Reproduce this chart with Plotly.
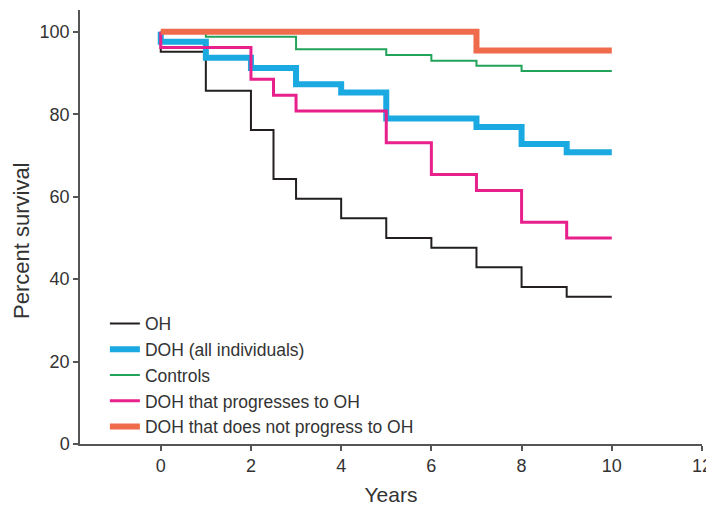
import plotly.graph_objects as go

# Data (Kaplan-Meier style step curves)
oh_t = [0, 0, 1, 2, 2.5, 3, 4, 5, 6, 7, 8, 9, 10]
oh_y = [100, 95.2, 85.7, 76.2, 64.3, 59.5, 54.8, 50.0, 47.6, 42.9, 38.1, 35.7, 35.7]

doh_t = [0, 0, 1, 2, 3, 4, 5, 7, 8, 9, 10]
doh_y = [100, 97.6, 93.7, 91.2, 87.3, 85.3, 79.0, 76.9, 72.8, 70.8, 70.8]

ctrl_t = [0, 1, 3, 5, 6, 7, 8, 10]
ctrl_y = [100, 98.8, 95.8, 94.4, 93.0, 91.8, 90.5, 90.5]

prog_t = [0, 0, 2, 2.5, 3, 5, 6, 7, 8, 9, 10]
prog_y = [100, 96.2, 88.5, 84.6, 80.8, 73.1, 65.4, 61.5, 53.8, 50.0, 50.0]

noprog_t = [0, 7, 10]
noprog_y = [100, 95.5, 95.5]

x_ticks = [0, 2, 4, 6, 8, 10, 12]
y_ticks = [0, 20, 40, 60, 80, 100]

series = [
    ("OH", oh_t, oh_y, "#231f20", 2),
    ("DOH (all individuals)", doh_t, doh_y, "#1aa9e1", 6),
    ("Controls", ctrl_t, ctrl_y, "#23a25a", 2),
    ("DOH that progresses to OH", prog_t, prog_y, "#e8208c", 3),
    ("DOH that does not progress to OH", noprog_t, noprog_y, "#ef6b4b", 6),
]

fig = go.Figure()
for name, t, y, color, w in series:
    fig.add_trace(go.Scatter(
        x=t, y=y, mode="lines", name=name,
        line=dict(color=color, width=w, shape="hv"),
    ))

font_family = "Liberation Sans, Arial, sans-serif"
axis_common = dict(
    showline=True, linecolor="#555555", linewidth=1.5,
    ticks="outside", ticklen=5, tickcolor="#555555", tickwidth=1.5,
    showgrid=False, zeroline=False,
    tickfont=dict(size=18, color="#333333", family=font_family),
)

fig.update_layout(
    width=714, height=499,
    margin=dict(l=72, r=20, t=2, b=63),
    plot_bgcolor="white", paper_bgcolor="white",
    font=dict(family=font_family, color="#333333", size=17),
    showlegend=True,
    legend=dict(
        x=0.04, y=0.319, xanchor="left", yanchor="top",
        bgcolor="rgba(0,0,0,0)",
        font=dict(size=17.5, color="#333333", family=font_family),
        tracegroupgap=0,
    ),
    xaxis=dict(
        range=[-1.79, 12], tickvals=x_ticks,
        title=dict(text="Years", font=dict(size=21, color="#333333"), standoff=12),
        **axis_common,
    ),
    yaxis=dict(
        range=[0, 105.3], tickvals=y_ticks,
        **axis_common,
    ),
    annotations=[dict(
        text="Percent survival", textangle=-90,
        xref="paper", yref="paper", x=-0.0949, y=0.47,
        xanchor="center", yanchor="middle", showarrow=False,
        font=dict(size=22, color="#333333", family=font_family),
    )],
)

fig.write_html(
    "out.html",
    config={"displayModeBar": False},
    post_script="document.documentElement.style.overflow='hidden';document.body.style.overflow='hidden';",
)
